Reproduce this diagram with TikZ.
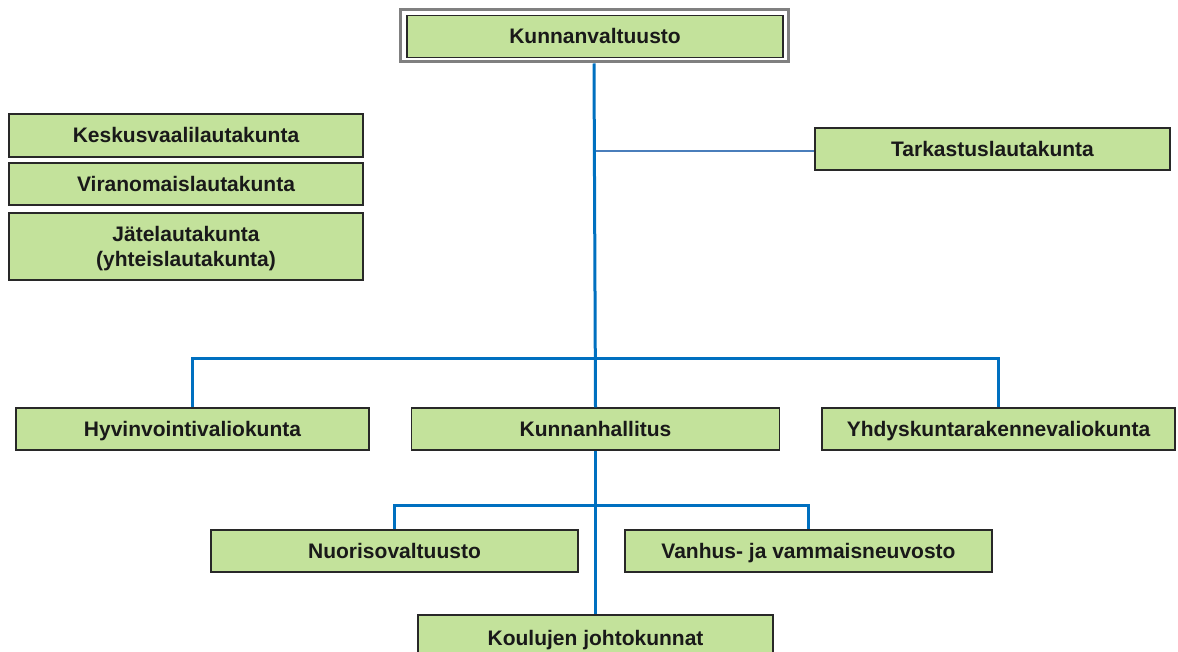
\documentclass[tikz,border=0pt]{standalone}
\usepackage{fontspec}
\setmainfont{Liberation Sans}
\definecolor{boxgreen}{RGB}{195,226,155}
\definecolor{lineblue}{RGB}{0,112,192}
\definecolor{lightblue}{RGB}{74,126,187}
\definecolor{boxedge}{RGB}{40,40,40}
\begin{document}
\begin{tikzpicture}[x=1pt,y=-1pt,
  orgbox/.style={draw=boxedge, fill=boxgreen, line width=1.3pt, inner sep=0pt,
    font=\fontsize{21}{25}\selectfont\bfseries, text=black!90, align=center,
    text height=15pt, text depth=0pt},
  conn/.style={draw=lineblue, line width=3pt},
  connlight/.style={draw=lightblue, line width=2.4pt}]
\useasboundingbox (0,0) rectangle (1178,652);
\begin{scope}
\clip (0,0) rectangle (1178,652);
% top box with frame
\node[draw=black!50, line width=3pt, minimum width=388pt, minimum height=52pt, inner sep=0pt] (kvframe) at (594,36) {};
\node[orgbox, minimum width=376pt, minimum height=42pt] (kv) at (595,36.5) {Kunnanvaltuusto};
% left boxes
\node[orgbox, minimum width=354pt, minimum height=43pt] (kesk) at (186,135.5) {Keskusvaalilautakunta};
\node[orgbox, minimum width=354pt, minimum height=42pt] (vir) at (186,184) {Viranomaislautakunta};
\node[orgbox, minimum width=354pt, minimum height=67pt, text height=40pt] (jate) at (186,246.5) {Jätelautakunta\\(yhteislautakunta)};
% tarkastus
\node[orgbox, minimum width=355pt, minimum height=42pt] (tark) at (992.5,149) {Tarkastuslautakunta};
% middle row
\node[orgbox, minimum width=353pt, minimum height=42pt] (hyv) at (192.5,429) {Hyvinvointivaliokunta};
\node[orgbox, minimum width=368pt, minimum height=42pt] (kh) at (595.5,429) {Kunnanhallitus};
\node[orgbox, minimum width=353pt, minimum height=42pt] (yhd) at (998.5,429) {Yhdyskuntarakennevaliokunta};
% lower row
\node[orgbox, minimum width=367pt, minimum height=42pt] (nuor) at (394.5,551) {Nuorisovaltuusto};
\node[orgbox, minimum width=367pt, minimum height=42pt] (van) at (808.5,551) {Vanhus- ja vammaisneuvosto};
\node[orgbox, minimum width=355pt, minimum height=46pt] (kou) at (595.5,638) {Koulujen johtokunnat};
% connectors
\coordinate (hbar) at (595,358);
\coordinate (sbar) at (595,505);
\coordinate (tbar) at (595,151);
\draw[connlight] (tbar) -- (tark.west |- tbar);
\draw[conn] (kvframe.south) -- (kh.north);
\draw[conn] (kh.south) -- (kou.north);
\draw[conn] (hyv.north) |- (hbar) -| (yhd.north);
\draw[conn] (nuor.north) |- (sbar) -| (van.north);
\end{scope}
\end{tikzpicture}
\end{document}
